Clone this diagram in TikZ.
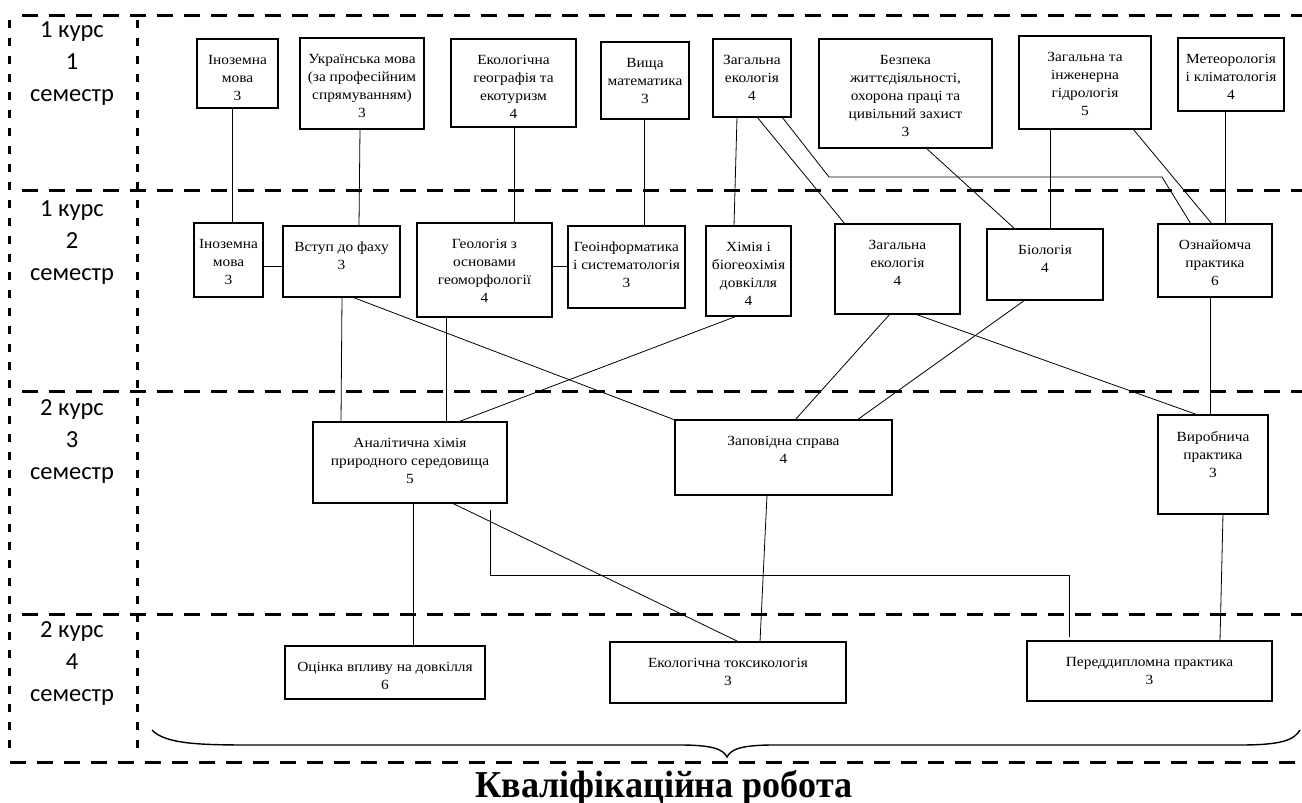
\documentclass[tikz,border=0pt]{standalone}
\usepackage{fontspec}
\setmainfont{Liberation Serif}
\newfontfamily\boxfam[FakeStretch=1.1]{Liberation Serif}
\newfontfamily\sidefam{Carlito}
\newfontfamily\titlefam[FakeStretch=0.95]{Liberation Serif}
\usetikzlibrary{calc}
\tikzset{
  cbox/.style={draw=black, line width=1.2pt, inner sep=0pt, outer sep=0pt, rectangle},
  clbl/.style={anchor=north, align=center, inner sep=0pt, font=\boxfam\fontsize{14}{18}\selectfont},
  conn/.style={line width=0.8pt, black},
  hdash/.style={line width=3pt, dash pattern=on 16pt off 11pt},
  vdash/.style={line width=3pt, dash pattern=on 8pt off 10pt},
  side/.style={align=center, inner sep=0pt, font=\sidefam\fontsize{24.5}{32}\selectfont},
  ttl/.style={anchor=base, inner sep=0pt, font=\titlefam\bfseries\fontsize{38}{42}\selectfont},
  bracepath/.style={line width=1.4pt}
}
\newcommand{\mybox}[6]{%
  \node[cbox, minimum width={#4-#2}, minimum height={#5-#3}] (#1) at ({(#2+#4)/2},{(#3+#5)/2}) {};
  \node[clbl] (#1-t) at ([yshift=-16pt]#1.north) {#6};
}
\begin{document}
\begin{tikzpicture}[x=1pt,y=-1pt]
\useasboundingbox (0,0) rectangle (1302,803);
% dashed frame
\draw[hdash] (22,15) -- (1302,15);
\draw[hdash] (22,190) -- (1302,190);
\draw[hdash] (22,391) -- (1302,391);
\draw[hdash] (22,614) -- (1302,614);
\draw[hdash] (10,762) -- (1302,762);
\draw[vdash] (9,20) -- (9,752);
\draw[vdash] (137,20) -- (137,752);
% side labels
\node[side] (s1) at (72,64) {1 курс\\1\\семестр};
\node[side] (s2) at (72,243) {1 курс\\2\\семестр};
\node[side] (s3) at (72,442) {2 курс\\3\\семестр};
\node[side] (s4) at (72,664) {2 курс\\4\\семестр};
% row 1
\mybox{inoz1}{197}{39}{278}{108}{Іноземна\\мова\\3}
\mybox{ukr}{300}{38}{424}{129}{Українська мова\\(за професійним\\спрямуванням)\\3}
\mybox{ekogeo}{451}{39}{576}{127}{Екологічна\\географія та\\екотуризм\\4}
\mybox{vyshch}{601}{42}{689}{119}{Вища\\математика\\3}
\mybox{zag1}{713}{39}{791}{117}{Загальна\\екологія\\4}
\mybox{bezp}{819}{39}{992}{148}{Безпека\\життєдіяльності,\\охорона праці та\\цивільний захист\\3}
\mybox{hidro}{1019}{36}{1151}{129}{Загальна та\\інженерна\\гідрологія\\5}
\mybox{meteo}{1178}{38}{1284}{111}{Метеорологія\\і кліматологія\\4}
% row 2
\mybox{inoz2}{194}{223}{263}{297}{Іноземна\\мова\\3}
\mybox{vstup}{283}{226}{400}{297}{Вступ до фаху\\3}
\mybox{geol}{417}{223}{552}{317}{Геологія з\\основами\\геоморфології\\4}
\mybox{geoinf}{568}{226}{685}{308}{Геоінформатика\\і систематологія\\3}
\mybox{khim}{706}{226}{791}{316}{Хімія і\\біогеохімія\\довкілля\\4}
\mybox{zag2}{835}{224}{960}{314}{Загальна\\екологія\\4}
\mybox{biol}{987}{229}{1103}{300}{Біологія\\4}
\mybox{oznay}{1158}{224}{1272}{297}{Ознайомча\\практика\\6}
% row 3
\mybox{anal}{313}{422}{507}{503}{Аналітична хімія\\природного середовища\\5}
\mybox{zapov}{675}{420}{892}{495}{Заповідна справа\\4}
\mybox{vyrob}{1158}{415}{1268}{514}{Виробнича\\практика\\3}
% row 4
\mybox{otsin}{285}{646}{485}{699}{Оцінка впливу на довкілля\\6}
\mybox{toks}{610}{642}{846}{703}{Екологічна токсикологія\\3}
\mybox{pered}{1027}{641}{1272}{701}{Переддипломна практика\\3}
% connectors row1 -> row2
\draw[conn] ([xshift=35pt]inoz1.south west) -- ([xshift=38pt]inoz2.north west);
\draw[conn] ([xshift=60pt]ukr.south west) -- ([xshift=76pt]vstup.north west);
\draw[conn] ([xshift=63pt]ekogeo.south west) -- ([xshift=97pt]geol.north west);
\draw[conn] ([xshift=43pt]vyshch.south west) -- ([xshift=76pt]geoinf.north west);
\draw[conn] ([xshift=24pt]zag1.south west) -- ([xshift=28pt]khim.north west);
\draw[conn] ([xshift=44pt]zag1.south west) -- ([xshift=10pt]zag2.north west);
\coordinate (g1) at (829,177);
\coordinate (g2) at (1162,177);
\draw[conn] ([xshift=-9pt]zag1.south east) -- (g1) -- (g2) -- ([xshift=33pt]oznay.north west);
\draw[conn] ([xshift=114pt]hidro.south west) -- ([xshift=54pt]oznay.north west);
\draw[conn] ([xshift=107pt]bezp.south west) -- ([xshift=28pt]biol.north west);
\draw[conn] ([xshift=31pt]hidro.south west) -- ([xshift=63pt]biol.north west);
\draw[conn] ([xshift=47pt]meteo.south west) -- ([xshift=67pt]oznay.north west);
% row 2 side links
\coordinate (l1) at ([yshift=-6pt]inoz2.east);
\draw[conn] (l1) -- (l1 -| vstup.west);
\coordinate (m1) at ([yshift=4pt]geol.east);
\draw[conn] (m1) -- (m1 -| geoinf.west);
% row2 -> row3
\draw[conn] ([xshift=59pt]vstup.south west) -- ([xshift=28pt]anal.north west);
\draw[conn] ([xshift=69pt]vstup.south west) -- (zapov.north west);
\draw[conn] ([xshift=29pt]geol.south west) -- ([xshift=133pt]anal.north west);
\draw[conn] ([xshift=31pt]khim.south west) -- ([xshift=145pt]anal.north west);
\draw[conn] ([xshift=55pt]zag2.south west) -- ([xshift=120pt]zapov.north west);
\draw[conn] ([xshift=38pt]biol.south west) -- ([xshift=182pt]zapov.north west);
\draw[conn] ([xshift=80pt]zag2.south west) -- ([xshift=40pt]vyrob.north west);
\draw[conn] ([xshift=52pt]oznay.south west) -- ([xshift=52pt]vyrob.north west);
% row3 -> row4
\draw[conn] ([xshift=100pt]anal.south west) -- ([xshift=128pt]otsin.north west);
\draw[conn] ([xshift=139pt]anal.south west) -- ([xshift=129pt]toks.north west);
\coordinate (x1) at (490,575);
\coordinate (x2) at (1069,575);
\draw[conn] ([xshift=177pt,yshift=-7pt]anal.south west) -- (x1) -- (x2) -- ([xshift=42pt,yshift=4pt]pered.north west);
\draw[conn] ([xshift=92pt]zapov.south west) -- ([xshift=150pt]toks.north west);
\draw[conn] ([xshift=65pt]vyrob.south west) -- ([xshift=193pt]pered.north west);
% brace
\draw[bracepath] (152,730) .. controls (165,744) and (200,745) .. (250,745) -- (680,745)
  .. controls (712,745) and (723,749) .. (727,757)
  .. controls (731,749) and (742,745) .. (774,745) -- (1240,745)
  .. controls (1282,745) and (1294,740) .. (1300,730);
% title
\node[ttl] (title) at (664,797) {Кваліфікаційна робота};
\end{tikzpicture}
\end{document}
